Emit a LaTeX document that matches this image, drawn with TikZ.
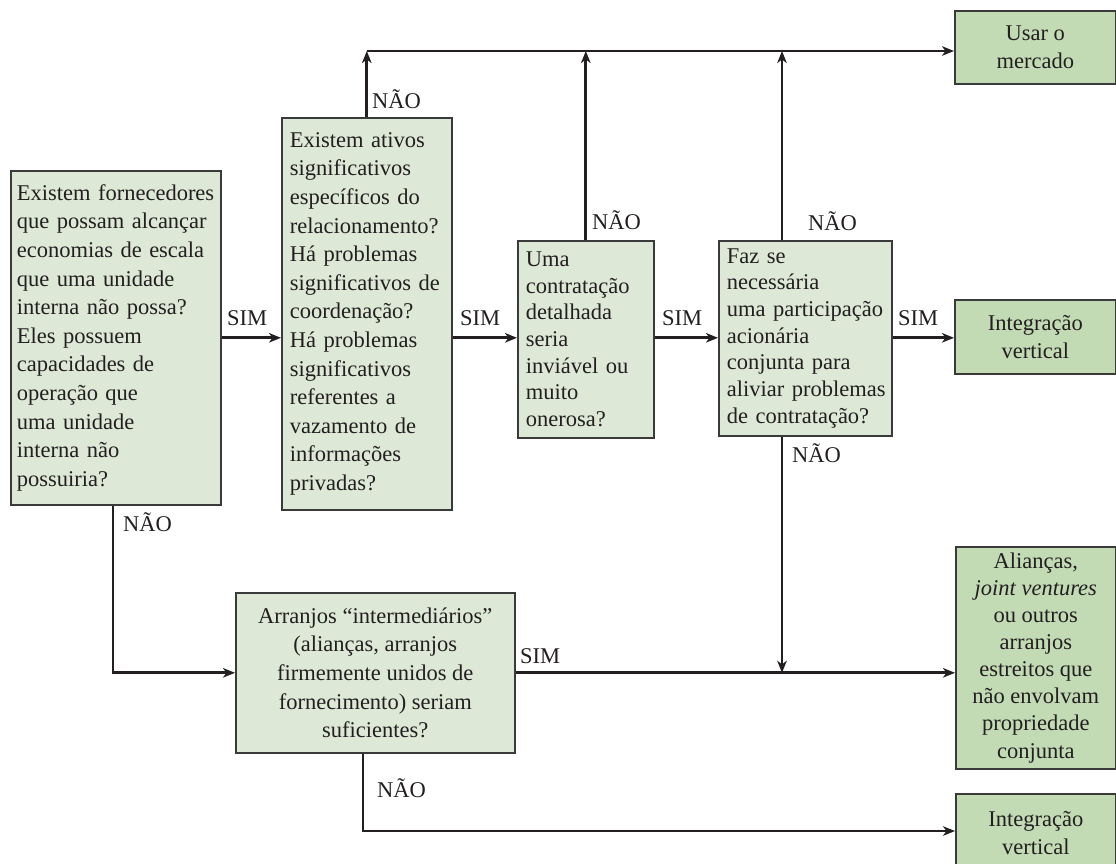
\documentclass[tikz,border=0pt]{standalone}
\usepackage{fontspec}
\setmainfont{Liberation Serif}
\usetikzlibrary{arrows.meta}
\definecolor{qfill}{HTML}{DDE9D6}
\definecolor{rfill}{HTML}{C2DBB5}
\definecolor{ink}{HTML}{231F20}
\definecolor{edge}{HTML}{3A3A3A}
\begin{document}
\begin{tikzpicture}[x=1pt,y=-1pt,
  every node/.style={text=ink, font=\fontsize{22.5}{28.6}\selectfont},
  tight/.style={font=\fontsize{22.5}{26.7}\selectfont},
  mid/.style={font=\fontsize{22.5}{27.8}\selectfont},
  snug/.style={font=\fontsize{22.5}{27.1}\selectfont},
  qbox/.style={draw=edge, fill=qfill, line width=1.6pt, anchor=north west, inner sep=0pt, align=left},
  rbox/.style={draw=edge, fill=rfill, line width=1.6pt, anchor=north west, inner sep=0pt, align=center, mid},
  link/.style={draw=ink, line width=2.7pt, -{Stealth[length=12pt,width=9.5pt,inset=3.5pt]}},
  lbl/.style={anchor=base west, inner sep=0pt}]
\hyphenpenalty=10000
\exhyphenpenalty=10000
\path[use as bounding box] (0,0) rectangle (1116,863);
\clip (0,0) rectangle (1116,863);
\fill[white] (0,0) rectangle (1116,863);

% question boxes
\node[qbox, minimum width=210pt, minimum height=334pt, text width=198pt] (A) at (10,170)
  {Existem~fornecedores\\ que~possam~alcançar\\ economias~de~escala\\ que~uma~unidade\\ interna~não~possa?\\ Eles~possuem\\ capacidades~de\\ operação~que\\ uma~unidade\\ interna~não\\ possuiria?};
\node[qbox, minimum width=170pt, minimum height=392pt, text width=154pt] (B) at (281,117)
  {Existem~ativos\\ significativos\\ específicos~do\\ relacionamento?\\ Há~problemas\\ significativos~de\\ coordenação?\\ Há~problemas\\ significativos\\ referentes~a\\ vazamento~de\\ informações\\ privadas?};
\node[qbox, tight, minimum width=136pt, minimum height=197pt, text width=120pt] (C) at (517,240)
  {Uma\\ contratação\\ detalhada\\ seria\\ inviável~ou\\ muito\\ onerosa?};
\node[qbox, tight, minimum width=173pt, minimum height=195pt, text width=157pt] (D) at (718,240)
  {Faz~se\\ necessária\\ uma~participação\\ acionária\\ conjunta~para\\ aliviar~problemas\\ de~contratação?};
\node[qbox, align=center, minimum width=279pt, minimum height=160pt] (E) at (235,592)
  {Arranjos “intermediários”\\ (alianças, arranjos\\ firmemente unidos de\\ fornecimento) seriam\\ suficientes?};

% outcome boxes
\node[rbox, minimum width=161pt, minimum height=73pt] (U) at (954,10) {Usar o\\ mercado};
\node[rbox, minimum width=161pt, minimum height=74pt] (I1) at (954,299) {Integração\\ vertical};
\node[rbox, snug, minimum width=160pt, minimum height=222pt] (R3) at (955,546)
  {Alianças,\\ \textit{joint ventures}\\ ou outros\\ arranjos\\ estreitos que\\ não envolvam\\ propriedade\\ conjunta};
\node[rbox, minimum width=160pt, minimum height=78pt] (I2) at (955,793) {Integração\\ vertical};

% routing rows and columns
\coordinate (topy) at (0,51);
\coordinate (boty) at (0,831);
\coordinate (ax) at (113,0);
\coordinate (dx) at (782,0);
\coordinate (ex) at (363,0);

% SIM row
\draw[link] (A.east) -- (A.east -| B.west);
\draw[link] (B.east |- A.east) -- (C.west |- A.east);
\draw[link] (C.east |- A.east) -- (D.west |- A.east);
\draw[link] (D.east |- A.east) -- (I1.west |- A.east);

% NÃO branches to the market
\draw[link] (B.north) -- (B.north |- topy);
\draw[link] (B.north |- topy) -- (U.west |- topy);
\draw[link] (C.north) -- (C.north |- topy);
\draw[link] (D.north -| dx) -- (dx |- topy);

% lower branches
\draw[link] (D.south -| dx) -- (dx |- E.east);
\draw[link] (A.south -| ax) |- (E.west);
\draw[link] (E.east) -- (R3.west |- E.east);
\draw[link] (E.south -| ex) |- (I2.west |- boty);

% branch labels
\node[lbl] (sAB) at (227,325) {SIM};
\node[lbl] (sBC) at (460,325) {SIM};
\node[lbl] (sCD) at (662,325) {SIM};
\node[lbl] (sDI) at (898,325) {SIM};
\node[lbl] (nB) at (372,108) {NÃO};
\node[lbl] (nC) at (592,229) {NÃO};
\node[lbl] (nDt) at (808,230) {NÃO};
\node[lbl] (nDb) at (792,462) {NÃO};
\node[lbl] (nA) at (123,531) {NÃO};
\node[lbl] (sE) at (520,663) {SIM};
\node[lbl] (nE) at (377,797) {NÃO};
\end{tikzpicture}
\end{document}
